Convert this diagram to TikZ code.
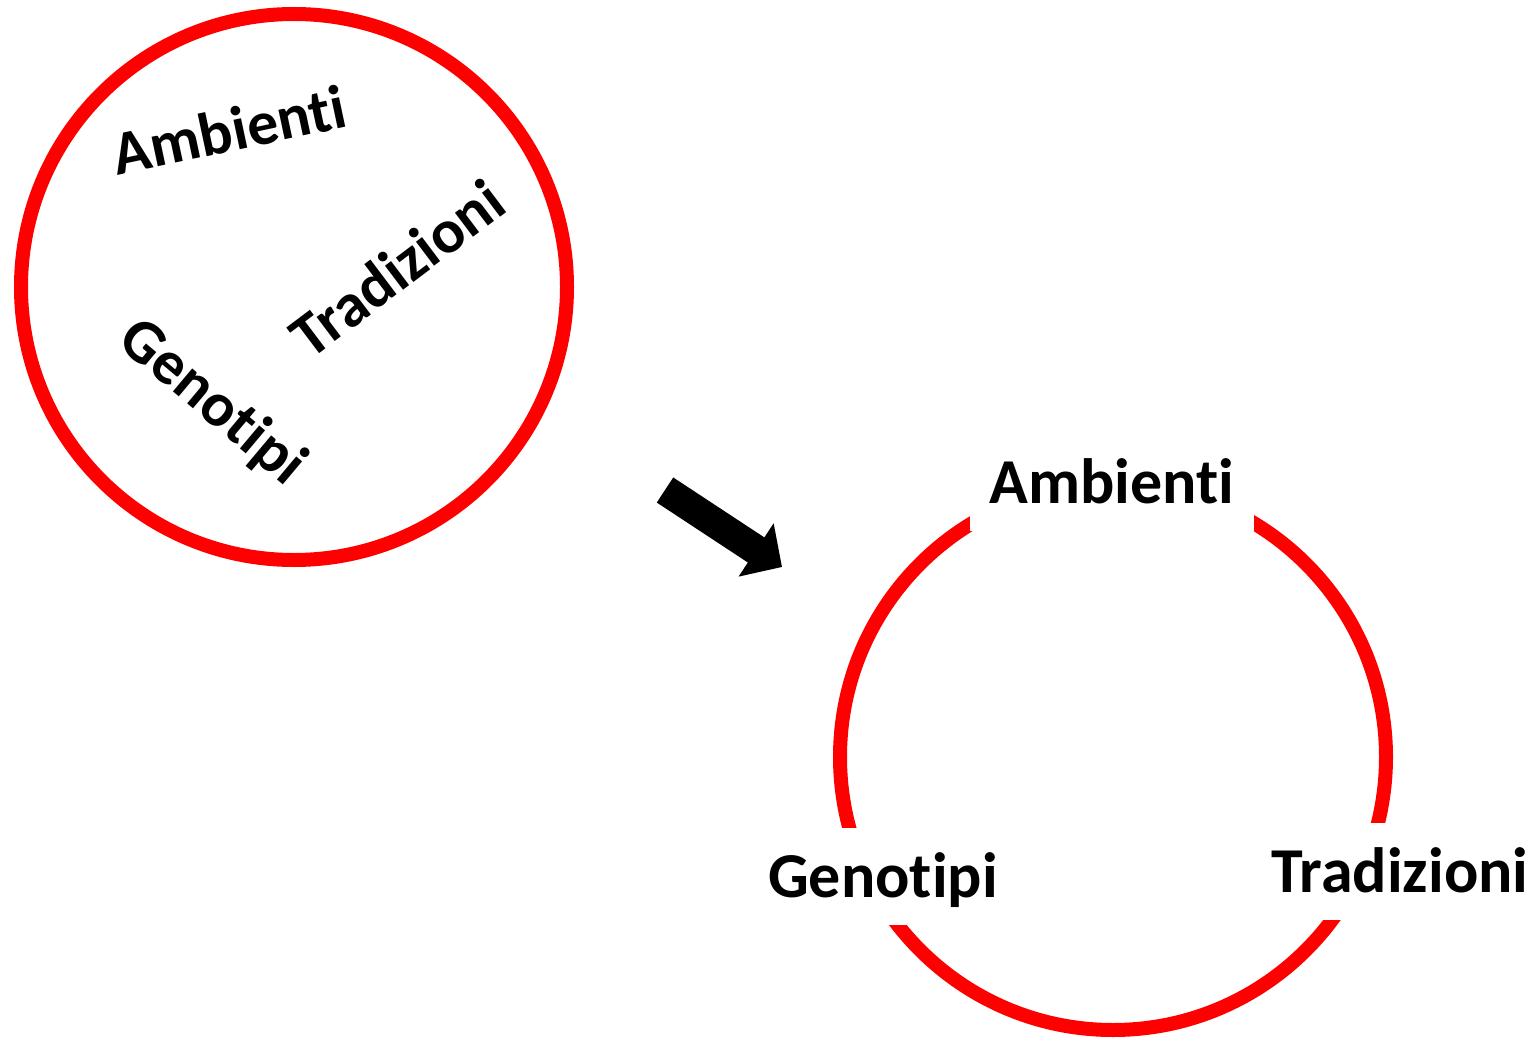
\documentclass[tikz,border=0pt]{standalone}
\usepackage{fontspec}
\setmainfont{Carlito}[Ligatures=NoCommon]
\usetikzlibrary{arrows.meta}
\tikzstyle{ring}=[circle,
	line width=14pt,
	draw=red,
	inner sep=0pt,
	minimum size=546pt]
\tikzstyle{word}=[font=\fontsize{62}{70}\selectfont\bfseries]
\tikzstyle{cutword}=[word,
	font=\fontsize{64}{72}\selectfont\bfseries,
	fill=white,
	inner xsep=20pt,
	inner ysep=0pt,
	text height=43pt,
	text depth=0pt,
	minimum height=97pt]
\tikzstyle{bigarrow}=[line width=30pt,
	-{Triangle[width=62pt,length=31pt]}]

\begin{document}
\begin{tikzpicture}[x=1pt,y=-1pt]
	\useasboundingbox (0,0) rectangle (1540,1038);
	% mixed up
	\node (before) [ring] at (294,287) {};
	\node (ambA) [word, rotate=12] at (229,130) {Ambienti};
	\node (tradA) [word, rotate=37] at (397,268) {Tradizioni};
	\node (genoA) [word, rotate=-40] at (212,403) {Genotipi};

	\coordinate (arrtail) at (665,490);
	\coordinate (arrtip) at (782,567);
	\draw[bigarrow] (arrtail) -- (arrtip);

	% sorted on the ring
	\node (after) [ring] at (1113,757) {};
	\node (ambB) [cutword] at (1112,482) {Ambienti};
	\node (genoB) [cutword] at (883,876) {Genotipi};
	\node (tradB) [cutword] at (1400,871) {Tradizioni};
\end{tikzpicture}
\end{document}
